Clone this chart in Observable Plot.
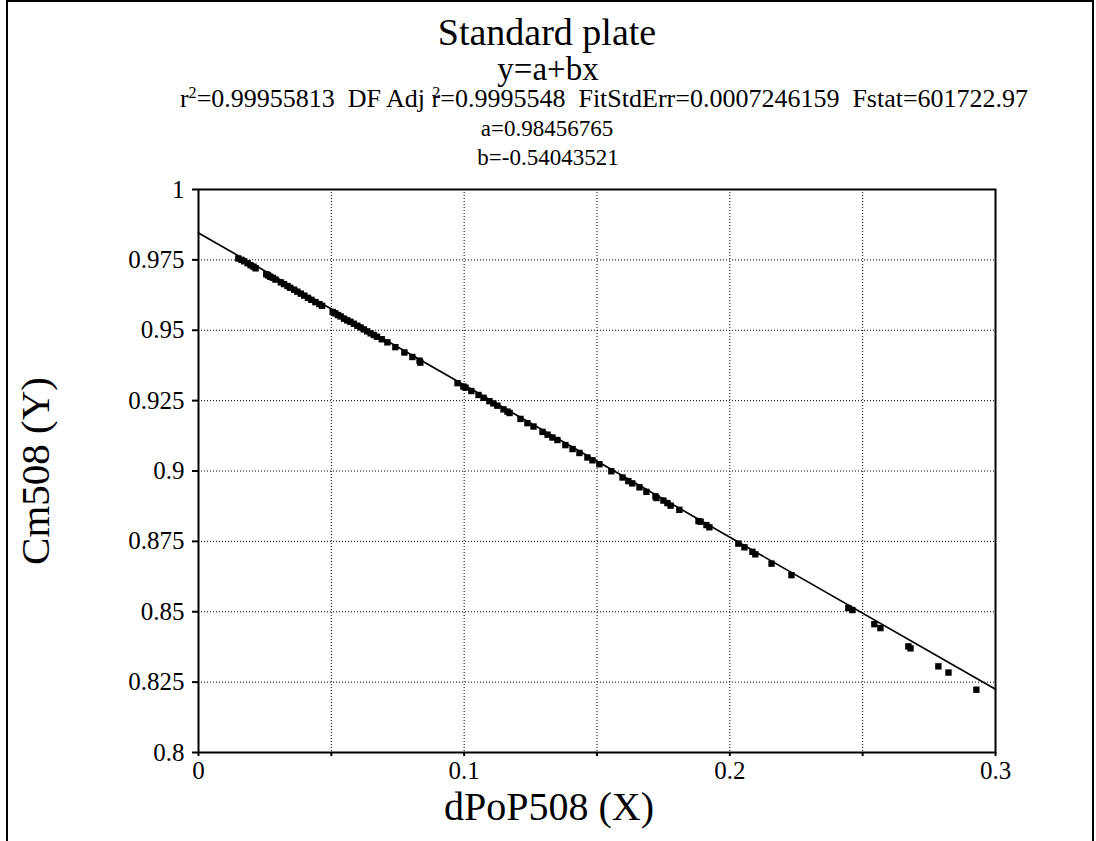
<!DOCTYPE html>
<html><head><meta charset="utf-8">
<script src="https://cdn.jsdelivr.net/npm/d3@7"></script>
<script src="https://cdn.jsdelivr.net/npm/@observablehq/plot@0.6"></script>
<style>
body{margin:0;background:#fff;}
#wrap{position:relative;width:1096px;height:841px;overflow:hidden;font-family:"Liberation Serif","Times New Roman",serif;color:#000;background:#fff;}
#head{position:relative;height:170px;}
.t{position:absolute;white-space:pre;transform:translateX(-50%);}
.t sup{font-size:0.62em;vertical-align:0.55em;line-height:0;}
#border{position:absolute;left:6px;top:0;width:1088px;height:841px;border-top:2px solid #000;border-left:2px solid #000;border-right:2px solid #000;box-sizing:border-box;pointer-events:none;}
#chart svg{display:block;font-family:"Liberation Serif","Times New Roman",serif !important;}
#chart svg text{font-family:"Liberation Serif","Times New Roman",serif !important;}
</style></head>
<body><div id="wrap"><div id="border"></div><div id="head"></div><div id="chart"></div></div>
<script>
// ---- data ----
const dPoP508 = [
  0.0150,0.0162,0.0172,0.0185,0.0196,0.0207,0.0215,
  0.0255,0.0262,0.0270,0.0280,0.0290,
  0.0310,0.0322,0.0335,0.0345,0.0360,0.0372,0.0385,0.0398,0.0412,0.0425,0.0440,0.0455,0.0465,
  0.0505,0.0515,0.0525,0.0535,0.0548,0.0560,0.0572,0.0585,0.0598,0.0610,0.0622,0.0635,0.0648,0.0660,0.0672,0.0690,0.0711,
  0.0741,0.0775,0.0805,0.0832,0.0835,
  0.0975,0.0997,0.1005,0.1027,0.1054,0.1073,0.1095,0.1110,0.1125,0.1148,0.1163,0.1171,
  0.1212,0.1238,0.1261,0.1295,0.1314,0.1332,0.1351,0.1381,0.1408,0.1434,0.1464,0.1483,0.1509,
  0.1554,0.1596,0.1618,0.1633,0.1660,0.1686,0.1720,0.1724,0.1750,0.1765,0.1777,0.1810,
  0.1882,0.1890,0.1912,0.1923,0.2032,0.2055,0.2085,0.2096,0.2157,0.2232,
  0.2446,0.2461,0.2544,0.2567,0.2672,0.2680,0.2785,0.2823,0.2928
];
const Cm508 = [
  0.9755,0.9750,0.9745,0.9738,0.9731,0.9726,0.9720,
  0.9699,0.9695,0.9690,0.9686,0.9680,
  0.9670,0.9664,0.9657,0.9651,0.9644,0.9637,0.9630,0.9623,0.9615,0.9608,0.9600,0.9593,0.9587,
  0.9565,0.9560,0.9554,0.9549,0.9541,0.9535,0.9530,0.9523,0.9516,0.9510,0.9503,0.9496,0.9489,0.9483,0.9477,0.9468,0.9457,
  0.9440,0.9421,0.9405,0.9392,0.9385,
  0.9312,0.9300,0.9296,0.9284,0.9270,0.9260,0.9248,0.9240,0.9232,0.9219,0.9211,0.9206,
  0.9185,0.9170,0.9158,0.9139,0.9129,0.9119,0.9110,0.9092,0.9078,0.9064,0.9048,0.9038,0.9024,
  0.8999,0.8977,0.8964,0.8956,0.8942,0.8926,0.8910,0.8904,0.8895,0.8886,0.8877,0.8862,
  0.8822,0.8820,0.8808,0.8800,0.8742,0.8729,0.8713,0.8704,0.8671,0.8630,
  0.8513,0.8506,0.8456,0.8442,0.8377,0.8370,0.8306,0.8284,0.8223
];
const fitA = 0.98456765;
const fitB = -0.54043521;
const fitXRange = [0, 0.3];

const xTicks = [0, 0.05, 0.1, 0.15, 0.2, 0.25, 0.3];
const xTickLabels = ["0", "", "0.1", "", "0.2", "", "0.3"];
const yTicks = [0.8, 0.825, 0.85, 0.875, 0.9, 0.925, 0.95, 0.975, 1];
const yTickLabels = ["0.8", "0.825", "0.85", "0.875", "0.9", "0.925", "0.95", "0.975", "1"];

const titleText = "Standard plate";
const equationText = "y=a+bx";
const statsHtml = "r<sup>2</sup>=0.99955813  DF Adj r<sup style=\"margin-left:-0.5em\">2</sup>=0.9995548  FitStdErr=0.0007246159  Fstat=601722.97";
const paramA = "a=0.98456765";
const paramB = "b=-0.54043521";
const xTitle = "dPoP508 (X)";
const yTitle = "Cm508 (Y)";

// ---- header ----
const head = document.getElementById("head");
const headLines = [
  {html: titleText, size: 38, cy: 32, cx: 547},
  {html: equationText, size: 33, cy: 69, cx: 548},
  {html: statsHtml, size: 26, cy: 99, cx: 604},
  {html: paramA, size: 23, cy: 128, cx: 547},
  {html: paramB, size: 23, cy: 157, cx: 548}
];
headLines.forEach(l => {
  const d = document.createElement("div");
  d.className = "t";
  d.innerHTML = l.html;
  d.style.fontSize = l.size + "px";
  d.style.lineHeight = l.size + "px";
  d.style.top = (l.cy - l.size / 2) + "px";
  d.style.left = l.cx + "px";
  head.appendChild(d);
});

// ---- chart ----
const points = dPoP508.map((x, i) => ({x, y: Cm508[i]}));
const fitLine = fitXRange.map(x => ({x, y: fitA + fitB * x}));
const lab = (ticks, labels) => d => labels[ticks.findIndex(t => Math.abs(t - d) < 1e-9)];

const chart = Plot.plot({
  width: 1096, height: 671,
  marginLeft: 198, marginRight: 101, marginTop: 19, marginBottom: 89,
  style: "font-family: 'Liberation Serif', 'Times New Roman', serif; font-size: 24px; color: #000; background: transparent; overflow: visible;",
  x: {domain: [0, 0.3]},
  y: {domain: [0.8, 1]},
  marks: [
    Plot.gridX({ticks: xTicks.slice(1, -1), stroke: "#000", strokeOpacity: 1, strokeWidth: 1, strokeDasharray: "1,2"}),
    Plot.gridY({ticks: yTicks.slice(1, -1), stroke: "#000", strokeOpacity: 1, strokeWidth: 1, strokeDasharray: "1,2"}),
    Plot.axisX({ticks: xTicks, tickSize: 4, tickPadding: 5, strokeWidth: 2, tickFormat: lab(xTicks, xTickLabels), label: null, fontSize: 25}),
    Plot.axisY({ticks: yTicks, tickSize: 6, tickPadding: 8, strokeWidth: 2, tickFormat: lab(yTicks, yTickLabels), label: null, fontSize: 25}),
    Plot.frame({stroke: "#000", strokeWidth: 2}),
    Plot.line(fitLine, {x: "x", y: "y", stroke: "#000", strokeWidth: 1.7}),
    Plot.dot(points, {x: "x", y: "y", symbol: "square", r: 3.6, fill: "#000", stroke: "none"}),
    Plot.text([xTitle], {frameAnchor: "bottom", text: d => d, dx: -48, dy: 55, fontSize: 40, textAnchor: "middle", lineAnchor: "middle"}),
    Plot.text([yTitle], {frameAnchor: "left", text: d => d, rotate: -90, dx: -163, fontSize: 41, textAnchor: "middle", lineAnchor: "middle"})
  ]
});
document.getElementById("chart").appendChild(chart);
</script>
</body></html>
